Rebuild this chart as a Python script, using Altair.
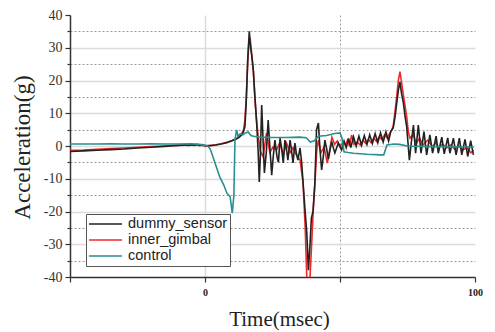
import altair as alt
import pandas as pd

# (time msec, acceleration g)
dummy_sensor = [
    (-50, -1.7), (-45, -1.5), (-40, -1.3), (-35, -1.1), (-30, -0.9), (-25, -0.6),
    (-20, -0.4), (-15, -0.1), (-12, 0.1), (-10, 0.2), (-8, 0.3), (-6, 0.2), (-5, 0.4),
    (-4, 0.2), (-3, 0.5), (-2, 0.2), (-1, 0.4), (0, 0.0), (2, 0.1), (4, 0.3), (6, 0.6),
    (8, 1.0), (10, 1.6), (11.5, 2.1), (12.5, 2.6), (13.5, 3.3), (14.2, 4.2), (14.8, 6),
    (15.3, 14), (15.8, 26), (16.4, 35), (16.9, 30), (17.4, 27), (17.9, 23), (18.5, 15),
    (19.2, 6), (19.7, -2), (20.1, -11), (20.5, -3), (21.0, 12.5), (21.4, 4), (22.0, -8.2),
    (22.7, -2), (23.4, 7.9), (24.0, 0), (24.7, -8.9), (25.3, -3), (25.9, 1.8), (26.7, -3.5),
    (27.2, -5), (27.8, 2.4), (28.4, -1), (29.0, -5.2), (29.6, 1.8), (30.2, -1), (30.7, -4.3),
    (31.5, 1.8), (32.0, -1), (32.6, -5.2), (33.3, 0.9), (33.8, -2), (34.4, -4.3), (35.2, -0.6),
    (35.8, -5), (36.3, -11), (37.0, -19), (37.7, -26.6), (38.3, -37.9), (38.9, -30),
    (39.4, -22), (40.0, -20), (40.4, -15), (40.7, -11.3), (41.3, 4.9), (42.0, 7.0),
    (42.6, -1.2), (43.2, -7.3), (43.8, -3.3), (44.4, 1.8), (45.1, -1), (45.7, -4),
    (46.9, 1.4), (47.5, -0.5), (48.1, -2.1), (49.4, 0.9), (50.6, -1.2), (51.5, 1.5),
    (52.3, -0.5), (53.2, 2.3), (54.0, -0.5), (55.0, 2.8), (56.0, 0.0), (57.0, 3.0),
    (58.0, 0.2), (59.0, 3.2), (60.0, 0.5), (61.0, 3.4), (62.0, 0.8), (63.0, 3.8),
    (64.0, 1.0), (65.0, 4.0), (66.0, 1.2), (67.0, 4.3), (68.0, 1.5), (68.8, 4.4),
    (69.7, 5.5), (70.4, 9), (71.0, 13), (71.6, 17), (72.2, 19.6), (72.8, 16), (73.5, 13),
    (74.1, 9), (74.7, 5.9), (75.7, -4.3), (76.4, 1), (77.2, 6.4), (78.0, -2.2), (79.0, 6.4),
    (80.0, -2.2), (81.1, 4.4), (82.1, -2.7), (83.3, 3.4), (84.3, -2.2), (85.6, 3.0),
    (86.4, -2.2), (87.7, 2.7), (88.6, -2.4), (89.9, 2.5), (90.7, -2.2), (92.0, 2.4),
    (93.0, -2.7), (94.2, 2.4), (95.1, -2.7), (96.3, 2.0), (97.3, -3.2), (98.4, 1.6),
    (99.4, -2.7),
]

inner_gimbal = [
    (-50, -1.3), (-45, -1.2), (-40, -1.0), (-35, -0.8), (-30, -0.6), (-25, -0.4),
    (-20, -0.2), (-15, 0.0), (-10, 0.2), (-5, 0.3), (0, 0.1), (2, 0.2), (4, 0.4),
    (6, 0.7), (8, 1.1), (10, 1.7), (11.5, 2.2), (12.5, 2.8), (13.5, 3.6), (14.3, 4.9),
    (14.8, 8), (15.3, 15), (15.8, 25), (16.2, 31), (16.7, 33), (17.2, 29), (17.9, 23),
    (18.5, 14), (19.2, 7), (19.7, 3), (20.5, -1.5), (21.5, -3.3), (22.8, 4.0), (24.0, -2.0),
    (25.2, -0.3), (26.5, -1.2), (27.8, 1.2), (29.0, -2.7), (30.2, 0.9), (31.5, -2.0),
    (32.6, -0.5), (33.8, -2.7), (35.2, -4.3), (36.3, -11), (37.1, -24.7), (37.7, -40),
    (38.3, -44), (38.9, -40), (39.5, -30), (40.1, -19.5), (40.8, -10), (41.4, -1.2),
    (42.0, 1.8), (42.9, -2.1), (44.1, -0.3), (45.3, -5.2), (47.0, 2.7), (48.0, 0.5),
    (49.0, 1.5), (50.0, -0.2), (51.0, 1.0), (52.0, 0.3), (52.8, 1.8), (53.5, 0.0),
    (54.3, 3.4), (55.2, 0.5), (56.4, 1.2), (57.5, 0.3), (58.5, 1.8), (59.5, 0.8),
    (60.5, 2.0), (61.5, 1.0), (62.5, 2.4), (63.5, 1.4), (64.5, 2.8), (65.5, 2.0),
    (66.5, 3.4), (67.5, 2.4), (68.5, 4.0), (69.2, 5.0), (69.7, 6), (70.3, 10), (71.0, 15),
    (71.6, 20), (72.2, 22.7), (72.7, 20), (73.4, 16), (74.7, 9), (75.3, 4.4), (75.9, 2.4),
    (77.1, 3.4), (78.3, 0.9), (79.5, 2.4), (80.7, 0.3), (82.5, 1.8), (84.3, -0.2),
    (85.5, 1.0), (86.5, -0.5), (88.0, 0.6), (89.5, -0.6), (91.0, 0.3), (92.5, -1.0),
    (94.0, 0.0), (95.5, -1.2), (97.0, -0.5), (98.5, -2.1), (99.5, -1.2),
]

control = [
    (-50, 0.6), (-45, 0.6), (-40, 0.6), (-35, 0.7), (-30, 0.6), (-25, 0.6), (-20, 0.7),
    (-15, 0.6), (-10, 0.6), (-5, 0.7), (-2, 0.5), (0, 0.2), (1, 0.0), (2, -1.0),
    (3.7, -5.2), (5.5, -9.5), (7, -12), (8.1, -14.4), (9.3, -15.5), (10.1, -20.5),
    (10.7, -15), (11.1, 1.8), (11.7, 4.9), (12.2, 3.0), (13, 3.7), (14, 3.4), (15, 4.0),
    (16, 4.3), (17, 3.2), (18, 3.0), (20, 2.7), (25, 2.6), (30, 2.6), (35, 2.7),
    (37.5, 2.5), (39, 1.2), (40.5, 1.6), (42, 3.0), (45, 3.2), (48, 3.8), (50, 4.0),
    (50.7, 2.5), (51.5, -1.8), (53, -2.0), (55, -2.2), (60, -2.5), (65, -2.7),
    (66.2, -2.7), (67.4, 0.3), (70, 0.6), (72, 0.5), (75, 0.0), (80, -0.1), (85, -0.2),
    (90, -0.2), (95, -0.3), (99.5, -0.3),
]

series_names = ["dummy_sensor", "inner_gimbal", "control"]
series_colors = ["#222222", "#f02828", "#2a8f8f"]
draw_order = ["inner_gimbal", "dummy_sensor", "control"]
series_data = {"dummy_sensor": dummy_sensor, "inner_gimbal": inner_gimbal, "control": control}

y_ticks = list(range(-40, 45, 5))
x_ticks = [-50, 0, 50, 100]

rows = []
for name in draw_order:
    for i, (t, g) in enumerate(series_data[name]):
        rows.append({"series": name, "t": t, "g": g, "order": i})
df = pd.DataFrame(rows)

serif = "Liberation Serif"

x_axis = alt.Axis(
    values=x_ticks,
    title="Time(msec)",
    labelExpr="datum.value === 0 || datum.value === 100 ? '' + datum.value : ''",
    labelFont=serif, labelFontWeight="bold", labelFontSize=10, labelColor="#222",
    labelPadding=5, labelFlush=False, tickSize=5, tickColor="#333", tickWidth=1.2,
    domainColor="#333", domainWidth=1.5,
    grid=True,
    gridColor={"condition": {"test": "datum.value === 0", "value": "#dcdcdc"}, "value": "#9a9a9a"},
    gridDash={"condition": {"test": "datum.value === 0", "value": []}, "value": [2, 2]},
    gridWidth={"condition": {"test": "datum.value === 0", "value": 1.5}, "value": 1},
    gridOpacity={"condition": {"test": "datum.value === -50 || datum.value === 100", "value": 0}, "value": 1},
    titleFont=serif, titleFontSize=21, titleFontWeight="normal", titleColor="#222",
    titleX=209, titleY=48, titleBaseline="alphabetic", titleAlign="center",
)

y_axis = alt.Axis(
    values=y_ticks,
    title="Acceleration(g)",
    labelExpr="datum.value % 10 === 0 ? '' + datum.value : ''",
    labelFont=serif, labelFontSize=14, labelColor="#333", labelPadding=3,
    tickSize={"condition": {"test": "datum.value % 10 === 0", "value": 5}, "value": 3},
    tickColor="#333", tickWidth=1.2,
    domainColor="#333", domainWidth=1.5,
    grid=True,
    gridColor={"condition": {"test": "datum.value % 10 === 0", "value": "#dcdcdc"}, "value": "#9a9a9a"},
    gridDash={"condition": {"test": "datum.value % 10 === 0", "value": []}, "value": [2, 2]},
    gridWidth={"condition": {"test": "datum.value % 10 === 0", "value": 1.5}, "value": 1},
    gridOpacity={"condition": {"test": "abs(datum.value) >= 40", "value": 0}, "value": 1},
    titleFont=serif, titleFontSize=23, titleFontWeight="normal", titleColor="#222",
    titleX=-41, titleY=132, titleBaseline="alphabetic", titleAlign="center",
)

legend = alt.Legend(
    title=None, orient="none", legendX=16, legendY=199,
    symbolType="stroke", symbolSize=1089, symbolStrokeWidth=1.6,
    labelFont="Liberation Sans", labelFontSize=14.5, labelColor="#222", labelOffset=5,
    strokeColor="#555", fillColor="white", padding=2, rowPadding=0, clipHeight=16,
)

base = alt.Chart(df).encode(
    x=alt.X("t:Q", scale=alt.Scale(domain=[-50, 100], nice=False, zero=False), axis=x_axis),
    y=alt.Y("g:Q", scale=alt.Scale(domain=[-40, 40], nice=False), axis=y_axis),
    color=alt.Color("series:N", scale=alt.Scale(domain=series_names, range=series_colors), legend=legend),
    order=alt.Order("order:Q"),
)

layers = [
    base.transform_filter(alt.datum.series == name).mark_line(clip=True, strokeWidth=1.6)
    for name in draw_order
]

chart = alt.layer(*layers).properties(
    width=405, height=262,
    autosize="none",
    padding={"left": 62, "top": 7, "right": 12, "bottom": 53},
    background="white",
).configure_view(stroke=None)

chart.save("out.html", embed_options={"renderer": "svg", "actions": False})
